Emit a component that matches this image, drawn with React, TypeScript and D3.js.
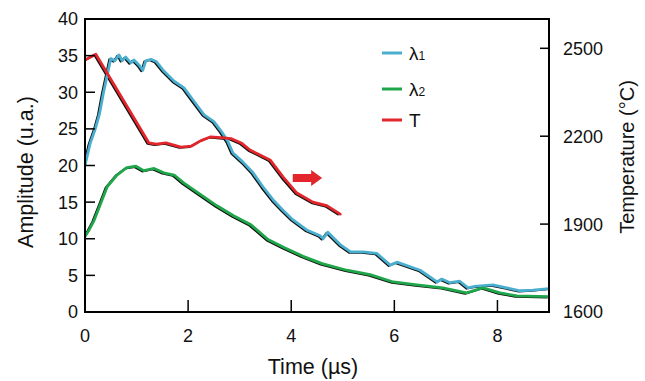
import React from "react";
import * as d3 from "d3";

// ---- data ----
const xTicks = [0, 2, 4, 6, 8];
const ampTicks = [0, 5, 10, 15, 20, 25, 30, 35, 40];
const tempTicks = [1600, 1900, 2200, 2500];

// λ1 amplitude vs time (µs)
const lambda1: [number, number][] = [
  [0, 20], [0.04, 21.2], [0.1, 23], [0.2, 25], [0.28, 27], [0.36, 30], [0.43, 32.3], [0.5, 34.6],
  [0.58, 34.3], [0.66, 35.1], [0.72, 34.3], [0.79, 34.8], [0.89, 34], [0.95, 34.4], [1.05, 33.7],
  [1.12, 33], [1.18, 34.3], [1.28, 34.5], [1.38, 34.2], [1.53, 32.9], [1.73, 31.5], [1.92, 30.6],
  [2.11, 28.8], [2.31, 26.9], [2.5, 26.0], [2.64, 24.7], [2.77, 23.3], [2.87, 21.7], [3.06, 20.5],
  [3.26, 19], [3.45, 17.1], [3.65, 15.3], [3.84, 13.9], [4.03, 12.6], [4.3, 11.2], [4.56, 10.4],
  [4.62, 10.0], [4.71, 10.9], [4.95, 9.2], [5.15, 8.2], [5.4, 8.2], [5.66, 8.0], [5.92, 6.4],
  [6.05, 6.8], [6.5, 5.7], [6.83, 4.1], [6.92, 4.5], [7.08, 4.0], [7.27, 4.2], [7.43, 3.3],
  [7.56, 3.5], [7.91, 3.7], [8.18, 3.3], [8.44, 2.9], [8.69, 3.0], [9, 3.2],
];

// λ2 amplitude vs time (µs)
const lambda2: [number, number][] = [
  [0, 10.3], [0.08, 11.2], [0.17, 12.4], [0.31, 14.9], [0.43, 17.1], [0.62, 18.7], [0.81, 19.7],
  [0.99, 19.9], [1.14, 19.3], [1.34, 19.6], [1.53, 19.0], [1.73, 18.7], [1.92, 17.6], [2.25, 16],
  [2.56, 14.5], [2.89, 13.1], [3.22, 11.9], [3.55, 9.9], [3.86, 8.8], [4.23, 7.6], [4.6, 6.6],
  [5.08, 5.7], [5.53, 5.1], [5.98, 4.1], [6.44, 3.7], [6.94, 3.3], [7.4, 2.6], [7.72, 3.3],
  [8.05, 2.6], [8.38, 2.2], [9, 2.1],
];

// Temperature (°C) vs time (µs)
const temperature: [number, number][] = [
  [0, 2460], [0.21, 2480], [1.24, 2177], [1.38, 2173], [1.57, 2177], [1.86, 2163], [2.06, 2166],
  [2.25, 2185], [2.44, 2198], [2.7, 2194], [2.83, 2192], [3.03, 2177], [3.2, 2153], [3.59, 2119],
  [3.84, 2061], [4.11, 2006], [4.42, 1975], [4.69, 1963], [4.95, 1934],
];

const legendItems = [
  { key: "l1", main: "λ", sub: "1" },
  { key: "l2", main: "λ", sub: "2" },
  { key: "t", main: "T", sub: "" },
];

const COLORS: Record<string, string> = { l1: "#4aafcf", l2: "#1fa64a", t: "#e2262b" };

export default function App() {
  const W = 645, H = 381;
  const L = 85, R = 549, T = 19, B = 312;
  const x = d3.scaleLinear().domain([0, 9]).range([L, R]);
  const yA = d3.scaleLinear().domain([0, 40]).range([B, T]);
  const yT = d3.scaleLinear().domain([1600, 2600]).range([B, T]);

  const lineA = d3.line<[number, number]>().x(d => x(d[0])).y(d => yA(d[1]));
  const lineT = d3.line<[number, number]>().x(d => x(d[0])).y(d => yT(d[1]));

  const font = "'Liberation Sans', Arial, sans-serif";

  // arrow (annotation pointing to right axis)
  const ax0 = x(4.03), ax1 = x(4.6), ay = yA(18.3);
  const arrow = [
    [ax0, ay - 4], [ax1 - 11, ay - 4], [ax1 - 11, ay - 8], [ax1, ay],
    [ax1 - 11, ay + 8], [ax1 - 11, ay + 4], [ax0, ay + 4],
  ].map(p => p.join(",")).join(" ");

  const series = [
    { key: "l1", d: lineA(lambda1) },
    { key: "l2", d: lineA(lambda2) },
    { key: "t", d: lineT(temperature) },
  ];

  return (
    <svg width={W} height={H} style={{ position: "absolute", left: 0, top: 0, background: "#fff" }} fontFamily={font}>
      <rect x={0} y={0} width={W} height={H} fill="#fff" />
      <defs>
        <clipPath id="clip"><rect x={L} y={T} width={R - L} height={B - T} /></clipPath>
      </defs>
      {/* raw traces (black) under the smoothed coloured ones */}
      <g clipPath="url(#clip)">
        {series.map(s => (
          <path key={"k" + s.key} d={s.d || ""} fill="none" stroke="#111" strokeWidth={2}
            transform="translate(-1.5,0.8)" strokeLinejoin="round" />
        ))}
        {series.map(s => (
          <path key={s.key} d={s.d || ""} fill="none" stroke={COLORS[s.key]} strokeWidth={2.8}
            strokeLinejoin="round" strokeLinecap="round" />
        ))}
      </g>
      <polygon points={arrow} fill="#e2262b" />

      {/* frame */}
      <rect x={L} y={T} width={R - L} height={B - T} fill="none" stroke="#000" strokeWidth={2} />

      {/* left axis */}
      {ampTicks.map(v => (
        <g key={"a" + v}>
          <line x1={L} x2={L + 10} y1={yA(v)} y2={yA(v)} stroke="#000" strokeWidth={1.5} />
          <text x={L - 7} y={yA(v)} dy="0.36em" textAnchor="end" fontSize={18} fill="#111">{v}</text>
        </g>
      ))}
      {/* right axis */}
      {tempTicks.map(v => (
        <g key={"t" + v}>
          <line x1={R - 9} x2={R} y1={yT(v)} y2={yT(v)} stroke="#000" strokeWidth={1.5} />
          <text x={R + 14} y={yT(v)} dy="0.36em" textAnchor="start" fontSize={18} fill="#111">{v}</text>
        </g>
      ))}
      {/* bottom axis */}
      {xTicks.map(v => (
        <g key={"x" + v}>
          <line x1={x(v)} x2={x(v)} y1={B} y2={B - 12} stroke="#000" strokeWidth={1.5} />
          <text x={x(v)} y={342} textAnchor="middle" fontSize={18} fill="#111">{v}</text>
        </g>
      ))}

      {/* axis titles */}
      <text x={313} y={374} textAnchor="middle" fontSize={21.5} fill="#111">Time (µs)</text>
      <text transform={`translate(33,172) rotate(-90)`} textAnchor="middle" fontSize={21.5} fill="#111">Amplitude (u.a.)</text>
      <text transform={`translate(634,157) rotate(-90)`} textAnchor="middle" fontSize={20} fill="#111">Temperature (°C)</text>

      {/* legend */}
      {legendItems.map((it, i) => {
        const ly = [53, 89, 120][i];
        return (
          <g key={"lg" + it.key}>
            <line x1={382} x2={402} y1={ly} y2={ly} stroke={COLORS[it.key]} strokeWidth={3} />
            <text x={409} y={ly + 7} fontSize={19} fill="#111">
              {it.main}
              {it.sub && <tspan fontSize={12}>{it.sub}</tspan>}
            </text>
          </g>
        );
      })}
    </svg>
  );
}
